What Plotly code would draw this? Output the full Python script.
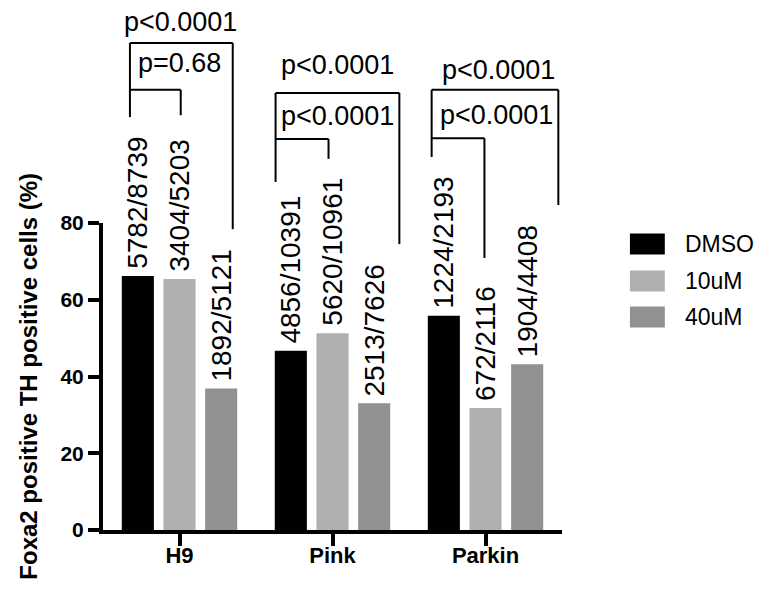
import plotly.graph_objects as go

# ---- data ----
categories = ["H9", "Pink", "Parkin"]
series_names = ["DMSO", "10uM", "40uM"]
dmso = [66.2, 46.7, 55.8]
um10 = [65.4, 51.3, 31.8]
um40 = [36.9, 33.0, 43.2]
dmso_counts = ["5782/8739", "4856/10391", "1224/2193"]
um10_counts = ["3404/5203", "5620/10961", "672/2116"]
um40_counts = ["1892/5121", "2513/7626", "1904/4408"]
y_ticks = [0, 20, 40, 60, 80]
p_outer = ["p<0.0001", "p<0.0001", "p<0.0001"]
p_inner = ["p=0.68", "p<0.0001", "p<0.0001"]

colors = ["#000000", "#b0b0b0", "#919191"]
FONT = "Liberation Sans, Arial, Helvetica, sans-serif"
YMAX = 80.0

values = [dmso, um10, um40]
counts = [dmso_counts, um10_counts, um40_counts]

fig = go.Figure()
for name, vals, col in zip(series_names, values, colors):
    fig.add_trace(go.Bar(x=categories, y=vals, name=name,
                         marker=dict(color=col, line=dict(width=0)),
                         showlegend=False))

BARGAP = 0.183
BARGROUPGAP = 0.23
slot = (1 - BARGAP) / 3
offsets = [-slot, 0.0, slot]

annotations = []
# count labels above bars
for s, (vals, labs) in enumerate(zip(values, counts)):
    for g, (v, lab) in enumerate(zip(vals, labs)):
        annotations.append(dict(x=g + offsets[s], y=v, xref="x", yref="y",
                                text=lab, textangle=-90, showarrow=False,
                                xanchor="center", yanchor="bottom", yshift=5,
                                font=dict(family=FONT, size=28, color="black")))

# significance brackets (x offsets in category units, heights in y units)
brackets = [
    # group, left, mid, right, outer_top, left_bot, right_bot, inner_top, mid_bot, tx_o, ty_o, tx_i, ty_i
    (0, -0.324, 0.008, 0.348, 126.9, 107.6, 78.4, 114.7, 108.1, 0.009, 132.2, 0.002, 121.4),
    (1, -0.372, -0.026, 0.437, 113.9, 90.7, 74.5, 101.9, 96.7, 0.033, 120.9, 0.033, 107.6),
    (2, -0.352, -0.007, 0.476, 114.7, 97.2, 84.7, 102.1, 70.9, 0.085, 119.6, 0.072, 107.9),
]
shapes = []
lw = dict(color="black", width=2)
for (g, L, M, R, ot, lb, rb, it, mb, txo, tyo, txi, tyi) in brackets:
    xl, xm, xr = g + L, g + M, g + R
    segs = [
        (xl, lb, xl, ot), (xl, ot, xr, ot), (xr, ot, xr, rb),
        (xl, it, xm, it), (xm, it, xm, mb),
    ]
    for x0, y0, x1, y1 in segs:
        shapes.append(dict(type="line", xref="x", yref="paper",
                           x0=x0, x1=x1, y0=y0 / YMAX, y1=y1 / YMAX, line=lw))
    annotations.append(dict(x=g + txo, y=tyo / YMAX, xref="x", yref="paper",
                            text=p_outer[g], showarrow=False, xanchor="center",
                            yanchor="middle", yshift=1,
                            font=dict(family=FONT, size=27, color="black")))
    annotations.append(dict(x=g + txi, y=tyi / YMAX, xref="x", yref="paper",
                            text=p_inner[g], showarrow=False, xanchor="center",
                            yanchor="middle", yshift=1,
                            font=dict(family=FONT, size=27, color="black")))

# manual legend
leg_rows = [0.932, 0.811, 0.694]
for name, col, yc in zip(series_names, colors, leg_rows):
    shapes.append(dict(type="rect", xref="paper", yref="paper",
                       x0=1.148, x1=1.224, y0=yc - 0.0342, y1=yc + 0.0342,
                       fillcolor=col, line=dict(width=0)))
    annotations.append(dict(x=1.264, y=yc, xref="paper", yref="paper",
                            text=name, showarrow=False, xanchor="left",
                            yanchor="middle",
                            font=dict(family=FONT, size=23, color="black")))

# y-axis title
annotations.append(dict(x=-0.163, y=0.5, xref="paper", yref="paper",
                        text="Foxa2 positive TH positive cells (%)",
                        textangle=-90, showarrow=False, xanchor="center",
                        yanchor="middle",
                        font=dict(family=FONT, size=24, color="black", weight="bold")))

fig.update_layout(
    width=762, height=593,
    margin=dict(l=103, r=200, t=223, b=63, pad=0),
    paper_bgcolor="white", plot_bgcolor="white",
    barmode="group", bargap=BARGAP, bargroupgap=BARGROUPGAP,
    shapes=shapes, annotations=annotations,
    xaxis=dict(range=[-0.5, 2.5], showline=True, linecolor="black", linewidth=4,
               ticks="outside", ticklen=12, tickwidth=3.5, tickcolor="black",
               showgrid=False, zeroline=False, ticklabelstandoff=-9,
               tickfont=dict(family=FONT, size=22, color="black", weight="bold")),
    yaxis=dict(range=[0, YMAX], tickvals=y_ticks, showline=True, linecolor="black",
               linewidth=4, ticks="outside", ticklen=11, tickwidth=3.5,
               tickcolor="black", showgrid=False, zeroline=False,
               tickfont=dict(family=FONT, size=21, color="black", weight="bold")),
)

# remove the default page margin so the figure fills the window exactly
fig.write_html("out.html",
               config={"displayModeBar": False},
               post_script="document.body.style.margin='0px';document.body.style.overflow='hidden';")
